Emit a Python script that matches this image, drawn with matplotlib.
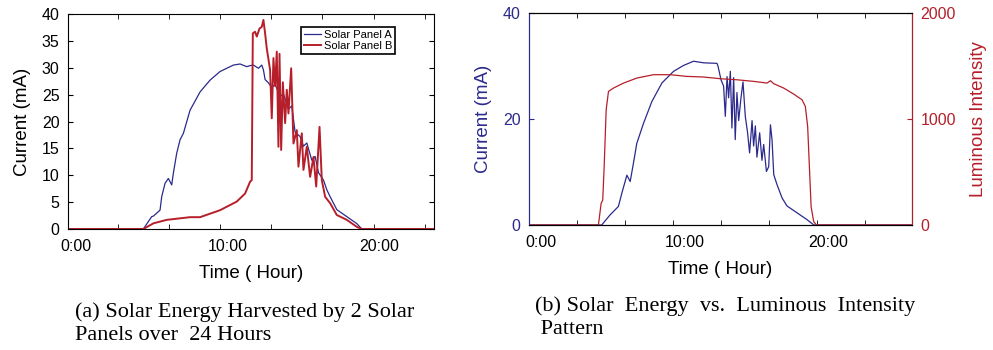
import matplotlib
matplotlib.use("Agg")
import matplotlib.pyplot as plt
import numpy as np

plt.rcParams['font.family'] = ['Liberation Sans', 'DejaVu Sans']

BLUE = '#2b2a8c'
RED = '#b61f2a'

# ---- panel (a): two solar panels, hours vs current (mA)
a_hours = [-0.5, 4.43, 4.98, 5.09, 5.53, 5.64, 5.86, 6.08, 6.30, 6.41, 6.63, 6.85,
           7.07, 7.51, 8.17, 8.83, 9.49, 10.15, 10.37, 10.81, 11.25, 11.47, 11.69,
           12.02, 12.24, 12.35, 12.46, 12.68, 12.90, 13.12, 13.45, 13.67, 14.00,
           14.22, 14.44, 14.77, 14.99, 15.21, 15.54, 15.76, 15.98, 16.31, 16.53,
           16.75, 17.19, 17.85, 18.51, 18.84, 23.6]
a_current = [0, 0, 2.3, 2.4, 3.5, 6.0, 8.5, 9.4, 8.2, 10.4, 14.1, 16.6,
             17.8, 22.1, 25.5, 27.7, 29.3, 30.2, 30.5, 30.7, 30.2, 30.4, 30.5,
             29.9, 30.5, 29.6, 27.8, 27.2, 26.3, 26.9, 24.7, 25.1, 22.3,
             22.9, 18.0, 17.2, 15.4, 16.0, 12.8, 13.5, 10.5, 9.1, 7.3,
             6.0, 3.6, 2.3, 1.0, 0, 0]

b_hours = [-0.5, 4.43, 5.09, 5.97, 7.51, 8.17, 9.49, 10.59, 11.14, 11.47, 11.58,
           11.65, 11.80, 11.91, 12.09, 12.24, 12.35, 12.46, 12.57, 12.79, 12.90,
           13.01, 13.12, 13.23, 13.34, 13.41, 13.52, 13.63, 13.78, 13.89, 14.00,
           14.18, 14.33, 14.55, 14.66, 14.88, 14.99, 15.21, 15.43, 15.65, 15.83,
           16.05, 16.20, 16.42, 16.75, 17.19, 17.85, 18.51, 18.84, 23.6]
b_current = [0, 0, 1.05, 1.7, 2.2, 2.2, 3.5, 5.1, 6.6, 8.8, 9.1,
             36.4, 36.7, 35.8, 37.3, 37.6, 38.9, 36.4, 33.6, 29.6, 20.6,
             31.8, 26.6, 33.0, 15.3, 32.6, 14.7, 27.3, 19.7, 25.9, 21.5,
             29.9, 15.9, 18.4, 11.6, 17.8, 11.0, 15.3, 9.7, 13.4, 7.9,
             19.0, 9.1, 6.0, 4.8, 2.6, 1.7, 0.4, 0, 0]

# ---- panel (b): current vs luminous intensity
c_hours = [-0.8, 4.21, 4.79, 5.37, 5.61, 5.96, 6.19, 6.42, 6.65, 7.12, 7.70, 8.40,
           9.21, 9.90, 10.60, 11.30, 12.23, 12.30, 12.51, 12.69, 12.81, 12.93,
           13.04, 13.16, 13.27, 13.39, 13.50, 13.62, 13.74, 13.90, 14.04, 14.20,
           14.36, 14.50, 14.67, 14.78, 14.90, 15.01, 15.20, 15.36, 15.48, 15.67,
           15.83, 15.95, 16.06, 16.18, 16.41, 16.76, 17.10, 17.80, 18.50, 18.97, 25.8]
c_current = [0, 0, 1.9, 3.5, 6.0, 9.4, 8.2, 11.7, 15.4, 19.2, 23.3, 26.8,
             29.0, 30.1, 30.9, 30.6, 30.5, 30.0, 27.4, 26.2, 20.5, 28.0,
             24.0, 29.0, 18.3, 27.8, 16.1, 25.0, 19.7, 24.0, 27.0, 20.5,
             17.4, 13.6, 19.7, 14.9, 18.7, 12.8, 17.4, 12.2, 15.2, 10.1,
             11.0, 18.9, 16.1, 9.5, 7.6, 5.1, 3.6, 2.3, 1.0, 0, 0]

lux_hours = [-0.8, 3.98, 4.17, 4.28, 4.38, 4.52, 4.68, 5.03, 5.73, 6.65, 7.81,
             8.97, 10.13, 11.30, 12.46, 13.62, 14.78, 15.71, 15.95, 16.18, 16.87,
             17.57, 18.15, 18.38, 18.54, 18.66, 18.78, 18.96, 19.15, 25.8]
lux = [0, 0, 205, 235, 551, 1087, 1260, 1292, 1339, 1386, 1418,
       1418, 1402, 1396, 1380, 1370, 1355, 1339, 1361, 1333, 1292,
       1235, 1181, 1118, 929, 551, 173, 32, 0, 0]

fig = plt.figure(figsize=(9.93, 3.5), dpi=100)

# Left panel
ax = fig.add_axes([68 / 993, 121 / 350, 366 / 993, 215 / 350])
ax.plot(a_hours, a_current, color=BLUE, lw=0.9, label='Solar Panel A')
ax.plot(b_hours, b_current, color=RED, lw=1.4, label='Solar Panel B')
ax.set_xlim(-0.54, 23.6)
ax.set_ylim(0, 40)
ax.set_yticks(np.arange(0, 41, 5))
ax.set_xticks([0, 10, 20])
ax.set_xticklabels(['0:00', '10:00', '20:00'])
ax.set_xticks(np.arange(2.76, 23.6, 3.37), minor=True)
ax.tick_params(axis='x', which='major', length=0, pad=7, labelsize=11.5)
ax.tick_params(axis='x', which='minor', direction='in', top=True, bottom=True, length=3.5)
ax.tick_params(axis='y', direction='in', left=True, right=True, length=3.5, labelsize=11.5, pad=6)
ax.set_xlabel('Time ( Hour)', fontsize=13.5, labelpad=8)
ax.set_ylabel('Current (mA)', fontsize=13.5, labelpad=8)
leg = ax.legend(loc='upper right', bbox_to_anchor=(0.893, 0.94), fontsize=8,
                frameon=True, fancybox=False, edgecolor='black', framealpha=1,
                handlelength=1.6, handletextpad=0.2, borderpad=0.25,
                labelspacing=0.15, borderaxespad=0)
leg.get_frame().set_linewidth(1.2)

# Right panel
ax1 = fig.add_axes([529 / 993, 125 / 350, 383 / 993, 212 / 350])
ax2 = ax1.twinx()
ax1.plot(c_hours, c_current, color=BLUE, lw=0.9)
ax2.plot(lux_hours, lux, color=RED, lw=0.9)
ax1.set_xlim(-0.85, 25.8)
ax1.set_ylim(0, 40)
ax2.set_ylim(0, 2000)
ax1.set_yticks([0, 20, 40])
ax2.set_yticks([0, 1000, 2000])
ax1.set_xticks([0, 10, 20])
ax1.set_xticklabels(['0:00', '10:00', '20:00'])
ax1.set_xticks(np.arange(2.49, 25.8, 3.34), minor=True)
ax1.tick_params(axis='x', which='major', length=0, pad=7, labelsize=11.5)
ax1.tick_params(axis='x', which='minor', direction='in', top=True, bottom=True, length=3.5)
ax1.tick_params(axis='y', direction='in', length=3.5, colors=BLUE, labelsize=11.5, pad=6)
ax2.tick_params(axis='y', direction='in', length=3.5, colors=RED, labelsize=11.5, pad=6)
ax1.spines['left'].set_color(BLUE)
ax2.spines['left'].set_color(BLUE)
ax2.spines['right'].set_color(RED)
ax1.set_xlabel('Time ( Hour)', fontsize=13.5, labelpad=8)
ax1.set_ylabel('Current (mA)', fontsize=13.5, color=BLUE, labelpad=8)
ax2.set_ylabel('Luminous Intensity', fontsize=13.5, color=RED, labelpad=10)

# Captions
cap = dict(family=['Liberation Serif', 'DejaVu Serif'], fontsize=16, va='center', ha='left')
fig.text(75 / 993, 1 - 312 / 350, '(a) Solar Energy Harvested by 2 Solar', **cap)
fig.text(75 / 993, 1 - 336 / 350, 'Panels over  24 Hours', **cap)
fig.text(535 / 993, 1 - 306 / 350, '(b) Solar  Energy  vs.  Luminous  Intensity', **cap)
fig.text(535 / 993, 1 - 330 / 350, ' Pattern', **cap)

fig.savefig('out.png', dpi=100)
